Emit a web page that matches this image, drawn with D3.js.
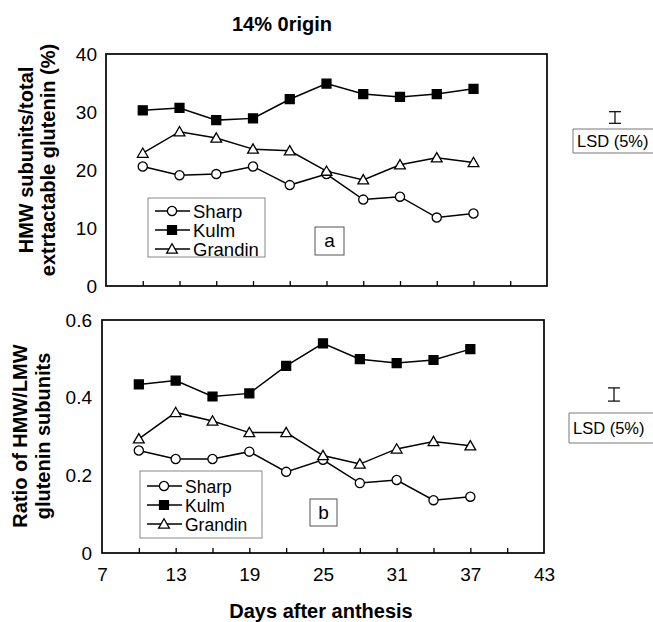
<!DOCTYPE html>
<html><head><meta charset="utf-8">
<script src="https://cdn.jsdelivr.net/npm/d3@7"></script>
<style>body{margin:0;background:#fff}svg{display:block}text{font-family:"Liberation Sans",Arial,sans-serif}</style>
</head><body>
<svg id="c" width="653" height="622"></svg>
<script>
const days = [10,13,16,19,22,25,28,31,34,37];
const series = ["Sharp","Kulm","Grandin"];
const aSharp   = [20.6,19.1,19.3,20.6,17.4,19.3,14.9,15.4,11.8,12.5];
const aKulm    = [30.3,30.7,28.6,28.9,32.2,34.9,33.1,32.6,33.1,34.0];
const aGrandin = [22.9,26.6,25.5,23.6,23.3,19.8,18.3,20.9,22.1,21.3];
const bSharp   = [0.264,0.242,0.242,0.261,0.209,0.240,0.180,0.188,0.136,0.145];
const bKulm    = [0.434,0.444,0.403,0.411,0.482,0.540,0.499,0.489,0.497,0.525];
const bGrandin = [0.294,0.362,0.340,0.310,0.310,0.251,0.229,0.268,0.287,0.276];
const xTicks = [10,13,16,19,22,25,28,31,34,37,40];
const xLabels = [7,13,19,25,31,37,43];
const aYTicks = [0,10,20,30,40];
const bYTicks = [0,0.2,0.4,0.6];
const lsdA = 2.0, lsdB = 0.034;

const svg = d3.select("#c");
const FS = 19;
const FF = "Liberation Sans, Arial, sans-serif";

function panel(cfg){
  const g = svg.append("g");
  const x = d3.scaleLinear().domain([7,43]).range([cfg.l, cfg.r]);
  const y = d3.scaleLinear().domain(cfg.ydom).range([cfg.b, cfg.t]);
  g.append("rect").attr("x",cfg.l).attr("y",cfg.t).attr("width",cfg.r-cfg.l).attr("height",cfg.b-cfg.t)
    .attr("fill","none").attr("stroke","#000").attr("stroke-width",1.7);
  const xa = g.append("g").attr("transform",`translate(0,${cfg.b})`)
    .call(d3.axisTop(x).tickValues(xTicks).tickSize(5).tickFormat(""));
  xa.select(".domain").remove();
  xa.selectAll("line").attr("stroke","#000").attr("stroke-width",1.3);
  if(cfg.xlabels){
    const xl = g.append("g").attr("transform",`translate(0,${cfg.b})`)
      .call(d3.axisBottom(x).tickValues(xLabels).tickSize(0).tickPadding(15).tickFormat(d3.format("d")));
    xl.select(".domain").remove();
    xl.selectAll("text").attr("font-size",FS).attr("fill","#000").attr("font-family",FF);
  }
  const ya = g.append("g").attr("transform",`translate(${cfg.l},0)`)
    .call(d3.axisLeft(y).tickValues(cfg.yticks).tickSize(0).tickPadding(cfg.ypad).tickFormat(cfg.yfmt));
  ya.select(".domain").remove();
  ya.selectAll("text").attr("font-size",FS).attr("fill","#000").attr("font-family",FF);

  const line = d3.line().x((d,i)=>x(days[i])).y(d=>y(d));
  const data = [cfg.sharp, cfg.kulm, cfg.grandin];
  const markerSym = [d3.symbolCircle, d3.symbolSquare, d3.symbolTriangle];
  const markerSize = [66, 80, 50];
  const fills = ["#fff","#000","#fff"];
  data.forEach(vals=>{
    g.append("path").datum(vals).attr("d",line).attr("fill","none").attr("stroke","#000").attr("stroke-width",1.5);
  });
  data.forEach((vals,k)=>{
    g.selectAll(null).data(vals).enter().append("path")
      .attr("d",d3.symbol().type(markerSym[k]).size(markerSize[k]))
      .attr("transform",(d,i)=>`translate(${x(days[i])},${y(d)+(k===2?1:0)})`)
      .attr("fill",fills[k]).attr("stroke","#000").attr("stroke-width",1.3);
  });
  const L = cfg.leg;
  g.append("rect").attr("x",L.x).attr("y",L.y).attr("width",L.w).attr("height",L.h)
    .attr("fill","none").attr("stroke","#888").attr("stroke-width",1);
  series.forEach((s,k)=>{
    const yy = L.rows[k];
    g.append("line").attr("x1",L.x+7).attr("x2",L.x+42).attr("y1",yy).attr("y2",yy).attr("stroke","#000").attr("stroke-width",1.5);
    g.append("path").attr("d",d3.symbol().type(markerSym[k]).size(markerSize[k]))
      .attr("transform",`translate(${L.x+24},${yy+(k===2?1:0)})`)
      .attr("fill",fills[k]).attr("stroke","#000").attr("stroke-width",1.3);
    g.append("text").attr("x",L.x+45).attr("y",yy+6.5).attr("font-size",L.fs).text(s);
  });
  const P = cfg.pl;
  g.append("rect").attr("x",P.x).attr("y",P.y).attr("width",P.w).attr("height",P.h)
    .attr("fill","none").attr("stroke","#555").attr("stroke-width",1);
  g.append("text").attr("x",P.x+P.w/2).attr("y",P.y+P.h/2+6).attr("text-anchor","middle").attr("font-size",19).text(cfg.letter);
  const yl = g.append("text").attr("transform",`translate(${cfg.ylx},${cfg.ylc}) rotate(-90)`)
    .attr("text-anchor","middle").attr("font-weight","bold").attr("font-size",20);
  yl.append("tspan").attr("x",0).attr("dy",0).text(cfg.ylab[0]);
  yl.append("tspan").attr("x",0).attr("dy",cfg.yldy).text(cfg.ylab[1]);
  const Z = cfg.lsd;
  const hh = y(0) - y(cfg.lsdv);
  const lg = g.append("g").attr("stroke","#000").attr("stroke-width",1.2);
  lg.append("line").attr("x1",Z.cx).attr("x2",Z.cx).attr("y1",Z.cy-hh/2).attr("y2",Z.cy+hh/2);
  lg.append("line").attr("x1",Z.cx-6).attr("x2",Z.cx+6).attr("y1",Z.cy-hh/2).attr("y2",Z.cy-hh/2);
  lg.append("line").attr("x1",Z.cx-6).attr("x2",Z.cx+6).attr("y1",Z.cy+hh/2).attr("y2",Z.cy+hh/2);
  g.append("path").attr("d",`M${Z.bx+Z.bw},${Z.by} H${Z.bx} V${Z.by+Z.bh} H${Z.bx+Z.bw}`)
    .attr("fill","none").attr("stroke","#777").attr("stroke-width",1);
  g.append("text").attr("x",Z.bx+4).attr("y",Z.ty).attr("font-size",16.5).text("LSD (5%)");
}

svg.append("text").attr("x",282).attr("y",31).attr("text-anchor","middle").attr("font-weight","bold").attr("font-size",20).text("14% 0rigin");

panel({l:106,r:547,t:54,b:286,ydom:[0,40],yticks:aYTicks,yfmt:d3.format("d"),ypad:9,
  sharp:aSharp,kulm:aKulm,grandin:aGrandin,xlabels:false,
  leg:{x:148,y:198,w:117,h:59,rows:[211,230,249],fs:18.5},
  pl:{x:315,y:227,w:29,h:28},letter:"a",
  ylx:33,ylc:160,yldy:22,ylab:["HMW subunits/total","extrtactable glutenin (%)"],
  lsdv:lsdA,lsd:{cx:615,cy:117.5,bx:573,by:129,bw:82,bh:24,ty:147}});

panel({l:102,r:544,t:320,b:553,ydom:[0,0.6],yticks:bYTicks,yfmt:d=>d===0?"0":d3.format(".1f")(d),ypad:10,
  sharp:bSharp,kulm:bKulm,grandin:bGrandin,xlabels:true,
  leg:{x:140,y:471,w:122,h:67,rows:[486,505,524],fs:17.5},
  pl:{x:310,y:499,w:27,h:27},letter:"b",
  ylx:27,ylc:436,yldy:23,ylab:["Ratio of HMW/LMW","glutenin subunits"],
  lsdv:lsdB,lsd:{cx:614,cy:394.5,bx:569,by:413,bw:84,bh:30,ty:434}});

svg.append("text").attr("x",321).attr("y",618).attr("text-anchor","middle").attr("font-weight","bold").attr("font-size",20).text("Days after anthesis");
</script>
</body></html>
